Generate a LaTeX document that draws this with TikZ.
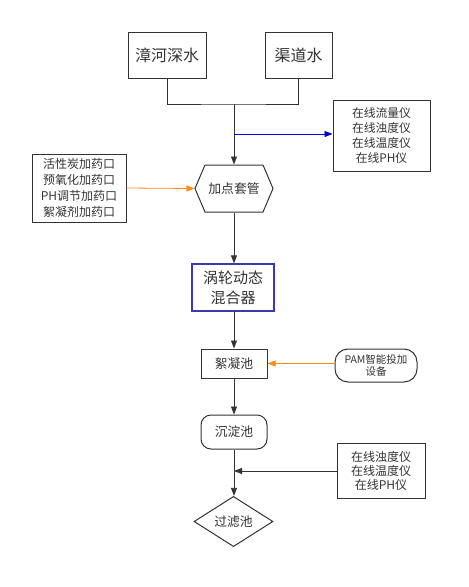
\documentclass[tikz,border=0pt]{standalone}
\usepackage{fontspec}
\setmainfont{Noto Sans CJK SC}
\usepackage{xcolor}
\usepackage{tikz}
\usetikzlibrary{arrows.meta, shapes.geometric, shapes.symbols}

\definecolor{linegray}{HTML}{333333}
\definecolor{flowblue}{HTML}{0000CC}
\definecolor{dosorange}{HTML}{FF8C1A}
\definecolor{mixnavy}{HTML}{3A3AA8}

\begin{document}
\begin{tikzpicture}[x=1pt, y=-1pt, color=linegray, line width=0.8pt,
      >={Triangle[length=8pt, width=6pt]},
      srcbox/.style={rectangle, draw, line width=1pt, minimum height=46pt, font=\fontsize{16}{18}\selectfont},
      infobox/.style={rectangle, draw, line width=1pt, align=center, font=\fontsize{11.8}{15.3}\selectfont},
      poolbox/.style={draw, line width=1pt, font=\fontsize{12.8}{15}\selectfont, inner sep=0pt}]
      \useasboundingbox (0,0) rectangle (469,587);
      % water sources
      \node[srcbox, minimum width=78pt] (zhanghe) at (167,55) {漳河深水};
      \node[srcbox, minimum width=67pt] (qudao) at (298.5,55) {渠道水};
      \coordinate (merge) at (234,104);
      \coordinate (tapblue) at (234,134);
      % process chain
      \node[poolbox, signal, signal to=west and east, signal pointer angle=134,
            minimum width=78pt, minimum height=47pt] (taoguan) at (234,188.5) {加点套管};
      \node[poolbox, rectangle, draw=mixnavy, line width=1.3pt, align=center,
            minimum width=82pt, minimum height=47pt,
            font=\fontsize{15}{20}\selectfont] (hunhe) at (233,287.5) {涡轮动态\\混合器};
      \node[poolbox, rectangle, minimum width=66pt, minimum height=29pt] (xuning) at (234,363.5) {絮凝池};
      \node[poolbox, rectangle, rounded corners=10pt, minimum width=66pt, minimum height=34pt] (chendian) at (234,432) {沉淀池};
      \node[poolbox, diamond, minimum width=79pt, minimum height=49pt] (guolv) at (233.5,521.5) {过滤池};
      \coordinate (tapgray) at (234,471);
      % dosing and instruments
      \node[infobox, minimum width=94pt, minimum height=68pt, font=\fontsize{12}{16}\selectfont] (dosing) at (79,188) {活性炭加药口\\预氧化加药口\\PH调节加药口\\絮凝剂加药口};
      \node[infobox, minimum width=97pt, minimum height=71pt] (meter1) at (381.5,135.5) {在线流量仪\\在线浊度仪\\在线温度仪\\在线PH仪};
      \node[infobox, minimum width=88pt, minimum height=55pt, font=\fontsize{12}{14}\selectfont] (meter2) at (381,470.5) {在线浊度仪\\在线温度仪\\在线PH仪};
      \node[infobox, rounded corners=13pt, minimum width=82pt, minimum height=33pt, font=\fontsize{10.5}{12.7}\selectfont] (pam) at (376,365.5) {PAM智能投加\\设备};
      % connectors
      \draw (zhanghe.south) |- (merge) -| (qudao.south);
      \draw[->] (merge) -- (taoguan.north);
      \draw[->, flowblue] (tapblue) -- (meter1.west |- tapblue);
      \draw[->, dosorange] (dosing.east) -- (taoguan.west);
      \draw[->] (taoguan.south) -- (taoguan.south |- hunhe.north);
      \draw[->] (hunhe.south -| xuning.north) -- (xuning.north);
      \draw[->, dosorange] (pam.west |- xuning.east) -- (xuning.east);
      \draw[->] (xuning.south) -- (chendian.north);
      \draw[->] (chendian.south) -- (chendian.south |- guolv.north);
      \draw[->] (meter2.west |- tapgray) -- (tapgray);
\end{tikzpicture}
\end{document}
